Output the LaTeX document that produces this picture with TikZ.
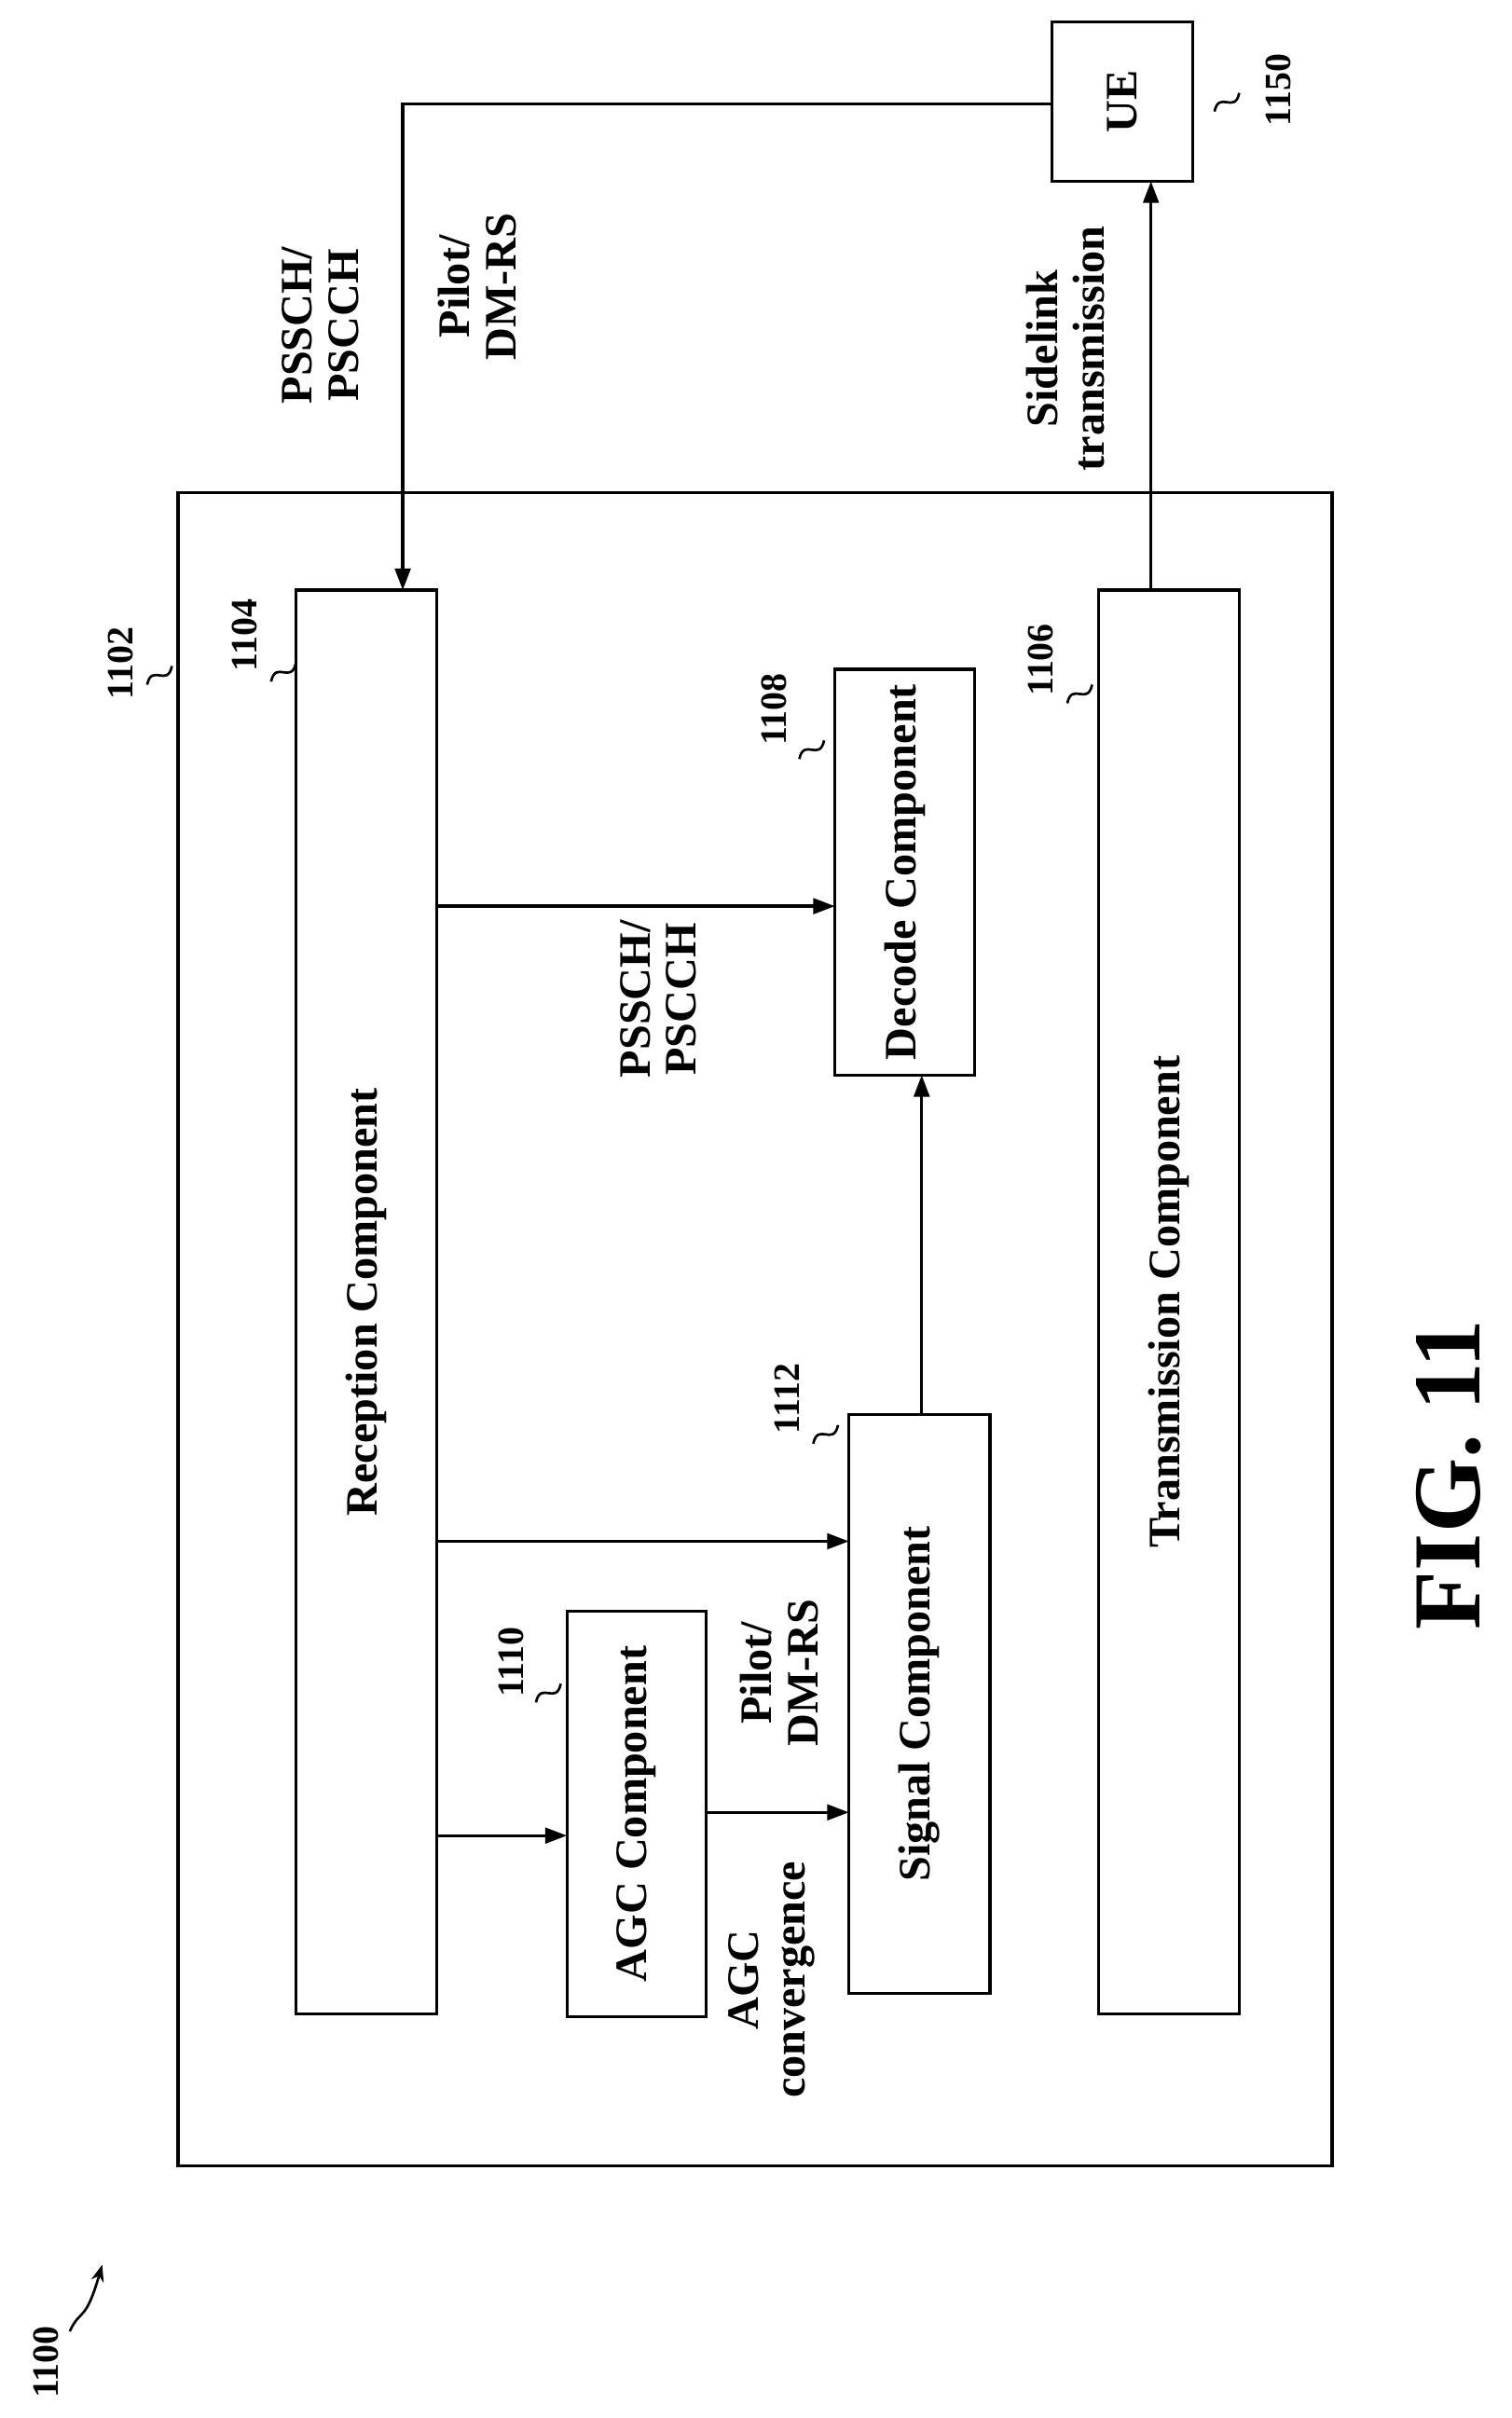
\documentclass[tikz,border=0pt]{standalone}
\usepackage{fontspec}
\setmainfont{Liberation Serif}
\usetikzlibrary{arrows.meta}
\begin{document}
\begin{tikzpicture}[x=1pt,y=-1pt,
  box/.style={draw,line width=2pt},
  arr/.style={line width=2pt,-{Triangle[length=14pt,width=10pt]}},
  lbl/.style={rotate=90,font=\bfseries\fontsize{29}{30}\selectfont,align=center},
  ref/.style={rotate=90,font=\bfseries\fontsize{24}{26}\selectfont},
  sq/.style={line width=1.6pt}]
\useasboundingbox (0,0) rectangle (976,1561);
\draw[box] (115,318) rectangle (860,1398);
\draw[box] (191,381) rectangle (282,1300);
\node[lbl] (rect) at (236.5,840.5) {Reception Component};
\draw[box] (709,381) rectangle (800,1300);
\node[lbl] (trt) at (754.5,840.5) {Transmission Component};
\draw[box] (539,432) rectangle (629,694);
\node[lbl] (dect) at (584,563) {Decode Component};
\draw[box] (548,913) rectangle (639,1287);
\node[lbl] (sigt) at (593.5,1100) {Signal Component};
\draw[box] (366,1040) rectangle (456,1302);
\node[lbl] (agct) at (411,1171) {AGC Component};
\draw[box] (679,14) rectangle (770,117);
\node[lbl] (uet) at (724.5,65.5) {UE};
\coordinate (ueL) at (679,67);
\coordinate (c1) at (260,67);
\coordinate (recT) at (260,381);
\draw[arr] (ueL) -- (c1) -- (recT);
\coordinate (trT) at (743,381);
\coordinate (ueB) at (743,117);
\draw[arr] (trT) -- (ueB);
\coordinate (r1) at (282,585); \coordinate (d1) at (539,585);
\draw[arr] (r1) -- (d1);
\coordinate (r2) at (282,995); \coordinate (s2) at (548,995);
\draw[arr] (r2) -- (s2);
\coordinate (r3) at (282,1185); \coordinate (a3) at (366,1185);
\draw[arr] (r3) -- (a3);
\coordinate (a4) at (456,1170); \coordinate (s4) at (548,1170);
\draw[arr] (a4) -- (s4);
\coordinate (s5) at (595,913); \coordinate (d5) at (595,694);
\draw[arr] (s5) -- (d5);
\node[lbl] (l1) at (207,210) {PSSCH/\\PSCCH};
\node[lbl] (l2) at (308,185) {Pilot/\\DM-RS};
\node[lbl] (l3) at (688,225) {Sidelink\\transmission};
\node[lbl] (l4) at (425,645) {PSSCH/\\PSCCH};
\node[lbl] (l5) at (503,1080) {Pilot/\\DM-RS};
\node[lbl] (l6) at (498,1278) {AGC\\convergence};
\node[rotate=90,font=\bfseries\fontsize{62}{64}\selectfont] (fig) at (935,952) {FIG. 11};
\node[ref] (n1102) at (78,428) {1102};
\node[ref] (n1104) at (158,410) {1104};
\node[ref] (n1108) at (500,458) {1108};
\node[ref] (n1106) at (672,426) {1106};
\node[ref] (n1112) at (508,903) {1112};
\node[ref] (n1110) at (330,1073) {1110};
\node[ref] (n1150) at (825,58) {1150};
\node[ref] (n1100) at (30,1525) {1100};
\draw[sq] (95,442) .. controls (98,428) and (108,444) .. (111,430);
\draw[sq] (175,440) .. controls (178,426) and (188,442) .. (191,428);
\draw[sq] (516,490) .. controls (519,476) and (529,492) .. (532,478);
\draw[sq] (689,454) .. controls (692,440) and (702,456) .. (705,442);
\draw[sq] (525,932) .. controls (528,918) and (538,934) .. (541,920);
\draw[sq] (346,1099) .. controls (349,1085) and (359,1101) .. (362,1087);
\draw[sq] (784,72) .. controls (787,58) and (797,74) .. (800,60);
\draw[line width=1.6pt,-{Stealth[length=11pt]}] (45,1505) .. controls (52,1490) and (55,1500) .. (66,1462);
\end{tikzpicture}
\end{document}
